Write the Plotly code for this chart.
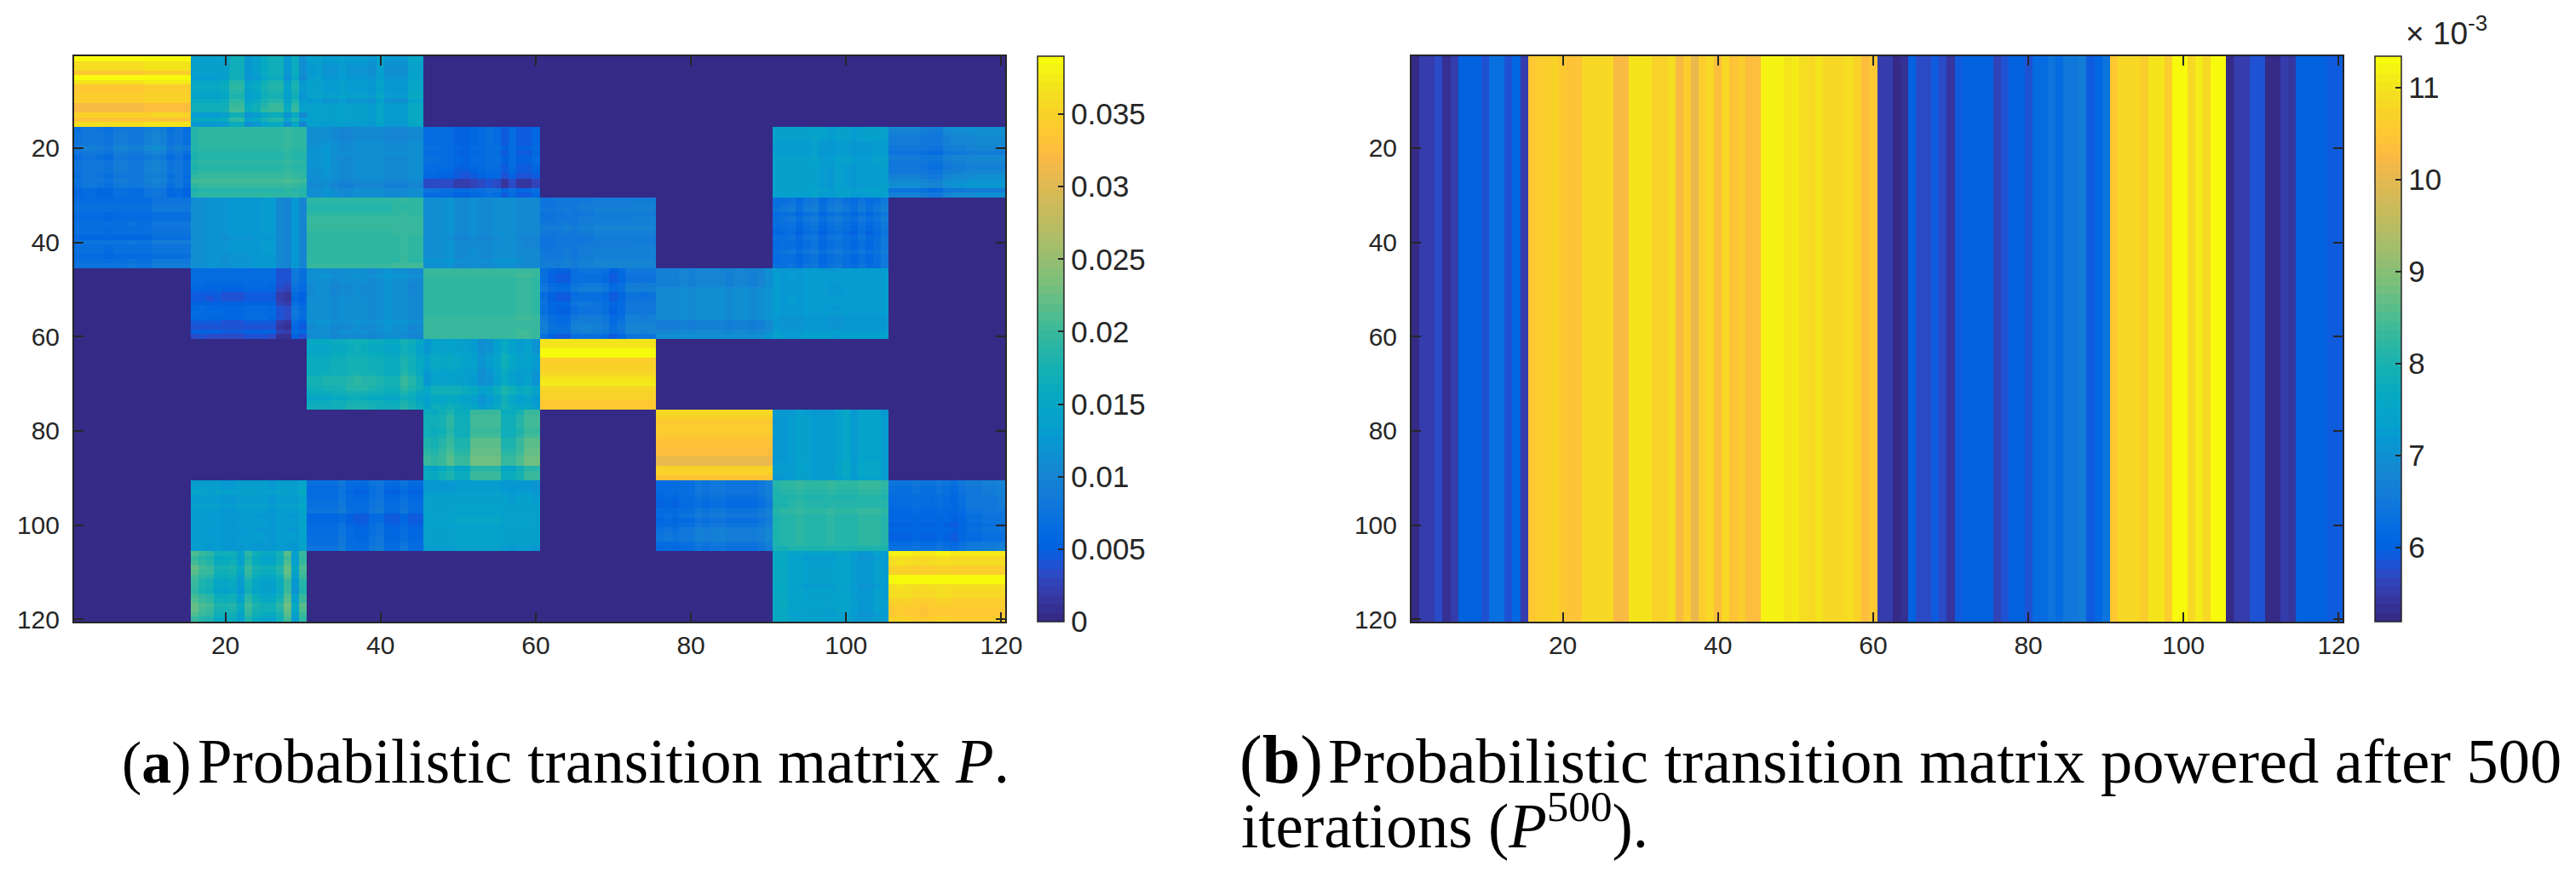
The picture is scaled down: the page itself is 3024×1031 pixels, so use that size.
import numpy as np
import plotly.graph_objects as go

W = 3024
H = 1031
# the browser keeps its default 8px body margin around the figure
PAGE_MARGIN = 8

# left matrix: mean of each 15x15 block (x 1e-3), 0.3 = off blocks
block_means = [
    [35.0, 15.5, 13.0, 0.3, 0.3, 0.3, 0.3, 0.3],
    [9.0, 19.2, 11.0, 6.3, 0.3, 0.3, 13.0, 9.5],
    [7.3, 11.8, 19.0, 11.0, 9.0, 0.3, 7.3, 0.3],
    [0.3, 5.2, 11.0, 19.3, 7.8, 10.0, 12.5, 0.3],
    [0.3, 0.3, 16.5, 15.0, 35.8, 0.3, 0.3, 0.3],
    [0.3, 0.3, 0.3, 18.5, 0.3, 33.8, 13.5, 0.3],
    [0.3, 13.0, 6.7, 13.5, 0.3, 8.2, 18.7, 7.5],
    [0.3, 17.0, 0.3, 0.3, 0.3, 0.3, 13.8, 35.7],
]

# texture inside the blocks, row and column offsets
r1c1_rows = [4, 1.5, 1.5, -1, 3.5, 2, -1, -1, -0.5, -0.5, -3, -3, 0, -2, 1.5]
r1c1_cols = [0, 0, 0, 0, 0, 0, 0, 0, 0, 0.3, 0.5, 0.5, 0.5, 0.5, 0.3]
r1c2_rows = [-1, -1, -1, -1, -1.5, 0.5, 1, 0.5, 0, 1, 2, 2.5, -1.5, 1, -2]
r1c2_cols = [-1, -1, -1, -1, -0.5, 2.5, 2.5, -2, -1, 1, 2, 2, -2, 1.5, -3.5]
r1c3_rows = [0.5, 0, -0.5, -0.5, 0, 0.5, 0.5, 0.5, 1, -0.5, 1, 1, 1, 1, 0.5]
r1c3_cols = [0, 0.5, -0.5, -0.5, 0.3, -0.5, -0.5, -0.5, -1, 1, -1, -1, -1, 1.5, 1.5]
r2c1_rows = [-0.5, 0, 0, 0, 1, 0, -1, 0, 0, 0, -0.5, 0, -0.5, -2, -2]
r2c1_cols = [-1.5, -0.5, -0.5, -1, -1.5, 0, 0, -0.5, -0.5, 0.5, 1, 0.5, -1.5, -0.5, -2]
r2c2_rows = [0, 0, 0, 0, 0, -0.5, -0.5, 0, -0.5, 0, 0.5, 1.5, 0.5, -0.5, -0.3]
r2c2_cols = [-0.5, 0, 0, 0, 0, 0, 0, 0, 0, 0, 0, 0, 0.3, 0, -0.3]
r2c3_rows = [-0.5, -0.5, -0.5, 0, 0.3, 0.5, 0.3, 0.3, 0.3, 0, 0, -0.5, -1, 0, 0]
r2c3_cols = [0.5, 0.5, 1, 0, -0.5, -0.5, 0, 0, 0, 0, -0.5, -0.5, -0.5, 0, 0]
r2c4_rows = [0, 0, 0, 0, 0.3, 0, 0.3, 0.3, 0, -0.5, -1, -3, -3, 1, 0]
r2c4_cols = [0.3, 0.3, 0, 0, -1, -1.2, -0.5, 0, 0.5, 0.3, -1.5, 0, -1.5, -1.5, -0.5]
r2c7_rows = [0.5, 0.5, 0.5, -0.3, -0.5, -0.5, 0.3, 0.3, 0, 0, 0, 0, 0, 0.5, 0.3]
r2c7_cols = [0.5, 0.5, 0.5, 0.5, 0.5, 1, 0, -0.3, 0.5, 0.3, -0.3, 0, 0, 0.3, 0.5]
r2c8_rows = [1, 0.5, 0, 0, -0.5, -1.5, 0, -0.5, -1, -0.5, 0.5, 1.5, 2, -1.5, 0.5]
r2c8_cols = [-0.5, -0.5, -0.5, -0.5, -1, -1.5, -1.5, 0, 0.5, 0.5, 0.8, 1, 1, 1, 1]
r3c1_rows = [-0.3, 0.3, 0.3, -0.5, -0.5, 0.5, 0, 0, -1, 1, 0, 0, -0.5, 0.5, 1]
r3c1_cols = [-0.5, -0.5, -0.5, -0.5, -0.8, -0.5, -0.5, -0.3, -0.5, -0.5, 0.5, 0.5, 0.5, 0.5, 0.5]
r3c2_rows = [0, 0, 0, 0, 0, 0, 0, 0, -0.3, 0, 0, 0, -0.3, -0.3, -0.3]
r3c2_cols = [-0.5, -0.3, 0.3, 0.3, 0, 0.5, 0.5, 0.5, 0.8, 1, 1, -1, -1.5, 0.8, -1.5]
r3c3_rows = [0, -0.3, -0.3, 0, 0.5, 0.5, 0.5, 0.3, 0, 0, 0, 0, 0, 0, 1]
r3c3_cols = [0, 0, 0, 0, 0, 0, 0, 0, 0, 0, 0, 0.3, 0.5, 0.3, 0.3]
r3c4_rows = [0, 0, 0, 0, 0, 0, 0, 0, -0.5, -0.3, -0.3, 0, 0, 0.3, 0]
r3c4_cols = [0.5, 0.5, 0.5, 1, -0.3, -0.3, 0, -0.3, -0.3, 0.3, 0.5, 0.5, -0.3, -0.5, -0.5]
r3c5_rows = [-0.5, -0.3, 0, -0.5, -0.3, 0, 0.5, 0, -0.5, -0.5, -0.3, 0, 0, 0.5, 0.5]
r3c5_cols = [-0.8, -0.8, -0.5, -0.3, -0.5, 0, 0, 0.3, 0.3, 0.3, 0.3, 0.3, 0.5, 0.5, 0.5]
r3c7_rows = [0, 0.5, 1, -0.5, 0.5, 0, -0.5, -1, 0, -0.5, -0.5, 0.5, -0.5, -0.5, 0]
r3c7_cols = [-0.5, 0, 0.5, -1, 0.5, 1, -1, 0.5, 1, 0, -1, 0.5, -1, 0, 1.2]
r4c2_rows = [1, 1, 1, 0.5, 0, -1, -1.2, -0.3, 0.5, 0.8, 0.5, -1, -1.5, -0.5, -2]
r4c2_cols = [0.3, 0.5, 0.2, 0.3, 0, 0, 0, 0.5, 0.5, 0.5, 0.3, -2, -2.5, 2, 1]
r4c3_rows = [0, 0.5, 0, -0.3, -0.3, -0.3, 0, 0, 0, 0, 0, 0.5, -0.3, 0, -0.5]
r4c3_cols = [0, 0.5, 0.5, -0.5, 0, 0, 0.3, 0, -0.3, 0.3, 1, 0.5, 0.3, -0.5, -0.3]
r4c4_rows = [0.3, 0.5, 0, 0, 0, 0, 0, 0, 0, 0, 0.5, 0.3, 0.3, 0.5, 0.8]
r4c4_cols = [0, 0, 0, 0, 0, 0, 0, 0, 0, 0, 0, 0, 0.5, 0.5, 0]
r4c5_rows = [-0.5, -1, -1, 0, 0.5, -1.3, -1, -0.3, -0.5, -0.5, 0.5, 0.8, 1.5, 1, -1]
r4c5_cols = [0, -1.5, -2, -2, 0, 0.5, 0.5, 0.3, -0.3, -2, -1, 1, 1, 0.8, 1]
r4c6_rows = [-0.5, -0.5, -0.5, -0.5, 0.5, 0.5, 0.5, 0.5, 0.5, 0.5, 0.5, -1, -1, 0, 1]
r4c6_cols = [0, 0, 0, 0.5, 0, 0.5, 0.5, 0.5, 0.5, 0, 0.5, 0.5, 0, 0.5, 1.5]
r4c7_rows = [0, 0.3, 0.3, 0, 0, 0, 0.3, 0.3, 0, 0.3, -0.5, -0.5, -0.5, 0.3, 0.8]
r4c7_cols = [0.5, -0.3, 0, -0.3, 0.3, 0.3, 0.3, 0, 0, 0.3, 0.3, 0.5, 0.5, 0.5, 0.5]
r5c3_rows = [-0.5, -1, -1, -0.5, 0, 0, 0, 0.3, 1.5, 1.5, 1, 0, -1, 0, 0.5]
r5c3_cols = [-0.5, -0.5, -0.3, 0, 0, 0.8, 1, 0.8, 0.3, 0, -0.5, -0.5, 1.5, 0.5, -1]
r5c4_rows = [-1, -1, -1, 0, 0, 0, -0.5, -1, -1, -1, 1.5, 1.5, 0, 0, 1]
r5c4_cols = [-1.5, 0.5, 0, 0.5, 0, -0.5, -1, -3, -2, -0.5, 1.5, 0, -1, -0.5, -2]
r5c5_rows = [1.2, 1.2, 3, 3, -1.5, -0.5, -0.5, 0, 0.8, 1.5, 0, -1, -1, -2, -2]
r5c5_cols = [0, 0, 0, 0, 0, 0, 0, 0, 0, 0, 0, 0, 0, 0, 0]
r6c4_rows = [-1, 0, 0, 0, -0.5, 0, 1, 1, 1.5, 2, 2.5, 2.5, -2, -1, -1]
r6c4_cols = [-1.5, -2, -1, 0.5, -1.5, -1.5, 2, 2, 2, 2, -1.5, -1.5, 0, 2, 2]
r6c6_rows = [2, 1, 0, 0.5, 0.5, 0, -0.5, -0.5, -1, -1, -3, -3, 1, 1, -0.5]
r6c6_cols = [0, 0, 0, 0, 0, 0, 0, 0, 0, 0, 0, 0, 0, 0, 0]
r6c7_rows = [-0.3, 0, 0, 0, 0, 0, 0, 0, 0, 0, 0, 0.3, 0.3, 0.3, 0]
r6c7_cols = [-1, -1, -0.5, 0.5, 0, -0.5, -0.5, -0.5, 0.5, 1.5, -0.5, 1, 1, 1, -0.5]
r7c2_rows = [0, 0.5, 1, 0, 0, 0.5, 0, -0.3, 0, 0, -0.3, 0, 0, -0.3, -0.3]
r7c2_cols = [0.3, 0.3, 0, 0.3, -0.5, -0.5, 0, 0.3, 0, 0, -0.5, 0.3, 0, 0, 1.5]
r7c3_rows = [0.5, 0, -0.3, 0, 0.5, 0.5, 1, -1, -1, -0.3, 0, 0, 0.3, 0.5, 1]
r7c3_cols = [0, 0, 0, 0, 1, -0.5, -1, -1, 0.5, 1, -1, -1, 0.3, -1, -1]
r7c4_rows = [-1, -1, -0.5, 0, 0, 0.5, 0.5, 0.5, 0.8, 0.5, 0.5, 0.5, 0.5, 0.5, -0.5]
r7c4_cols = [0, 0, 0, 0, 0.5, 0.5, 0.5, 0.5, 0.5, 0.5, 0, -0.3, 0, 0, -0.5]
r7c6_rows = [-0.5, -0.5, -0.5, -1, -1.5, -1.5, -0.5, 0, -1, -0.5, 0.5, 0.8, 0.8, -0.5, -1]
r7c6_cols = [-1.5, -1, -1.5, -0.5, -0.5, 0.5, 0, 0.5, 0.5, 0, 0, 0, 0, 0.5, 1.5]
r7c7_rows = [0.5, 0.5, 0, -0.5, -0.3, -0.3, 0.5, 0, 0, 0, 0, 0, 0, 0, -1]
r7c7_cols = [-0.5, -0.3, 0, 0.5, 0, 0, 0, 0.3, 0, 0, 0, 0.3, 0.3, 0.3, 0]
r7c8_rows = [1, 0.5, 0.5, 0, 0, 0, -0.5, -1, -1, -1.5, -1, -1.5, -1.5, 0, 0.5]
r7c8_cols = [-1, -1, -1, -0.5, -1, -1, -0.5, -1, -1.5, -0.5, 0.5, 0.5, 1, 1, 1.3]
r8c2_rows = [0.5, -0.5, 0, 1.5, 1, 0, -1, -1, -1.5, 0, 0.5, 2, 1.5, 0.5, -0.5]
r8c2_cols = [3.5, 2, 1.5, -1, -1, -0.5, -3, 1.5, -1, -2, -2, 0, 4, -3.5, 2.5]
r8c7_rows = [0, -0.5, 0, 0, 0, 0, 0, -0.5, 0, 0, 0, 0.3, 0, -0.3, 0]
r8c7_cols = [1.5, 2, 0.5, 0.5, 0, 0, 0, -0.3, 0.5, 0.5, -0.5, -1.5, -1.5, -0.3, -0.5]
r8c8_rows = [2, 0, 0.5, -1, -1, 3.5, 3, 0.5, 0, 0, -1, -1.5, -2, -2, -1]
r8c8_cols = [0.3, 0.5, 0.3, 0, -0.3, 0, 0.3, 0.3, 0, 0, 0, 0, 0, 0, 0]

# right matrix: every row is the same, one value per column (x 1e-3)
stationary = [
    5.2, 5.55, 5.55, 5.7, 5.3, 5.5, 6.0, 6.0, 6.0, 5.8,
    6.25, 6.25, 5.8, 6.15, 5.5, 10.5, 10.6, 10.6, 10.75, 10.55,
    10.45, 10.45, 10.8, 10.8, 10.8, 10.8, 10.2, 10.2, 11.0, 11.0,
    11.0, 10.7, 10.7, 10.95, 10.2, 10.6, 10.05, 10.6, 10.8, 10.3,
    10.8, 10.4, 10.6, 10.35, 10.35, 11.2, 11.2, 11.2, 11.05, 11.15,
    10.95, 10.8, 11.0, 10.8, 10.8, 10.8, 10.9, 10.7, 10.35, 10.5,
    5.5, 5.5, 5.25, 5.35, 6.05, 5.7, 5.7, 5.95, 5.75, 5.45,
    5.9, 6.05, 6.05, 6.05, 6.05, 5.65, 5.85, 6.05, 6.05, 5.85,
    6.2, 6.2, 6.4, 6.2, 6.5, 6.5, 6.55, 5.95, 6.1, 6.35,
    10.55, 10.85, 10.85, 10.8, 10.6, 11.05, 11.05, 10.6, 11.25, 11.25,
    10.85, 11.15, 10.85, 11.3, 11.3, 5.25, 5.5, 5.5, 5.8, 5.8,
    5.2, 5.2, 5.5, 5.45, 6.0, 6.0, 6.05, 6.05, 5.95, 5.9,
]

axis_ticks = [20, 40, 60, 80, 100, 120]
left_bar_vals = [0, 0.005, 0.01, 0.015, 0.02, 0.025, 0.03, 0.035]
left_bar_text = ["0", "0.005", "0.01", "0.015", "0.02", "0.025", "0.03", "0.035"]
right_bar_vals = [6, 7, 8, 9, 10, 11]

# MATLAB parula, 64 levels
parula = [
    (0.2081, 0.1663, 0.5292), (0.2116, 0.1898, 0.5777), (0.2123, 0.2138, 0.6270), (0.2081, 0.2386, 0.6771),
    (0.1959, 0.2645, 0.7279), (0.1707, 0.2919, 0.7792), (0.1253, 0.3242, 0.8303), (0.0591, 0.3598, 0.8683),
    (0.0117, 0.3875, 0.8820), (0.0060, 0.4086, 0.8828), (0.0165, 0.4266, 0.8786), (0.0329, 0.4430, 0.8720),
    (0.0498, 0.4586, 0.8641), (0.0629, 0.4737, 0.8554), (0.0723, 0.4887, 0.8467), (0.0779, 0.5040, 0.8384),
    (0.0793, 0.5200, 0.8312), (0.0749, 0.5375, 0.8263), (0.0641, 0.5570, 0.8240), (0.0488, 0.5772, 0.8228),
    (0.0343, 0.5966, 0.8199), (0.0265, 0.6137, 0.8135), (0.0239, 0.6287, 0.8038), (0.0231, 0.6418, 0.7913),
    (0.0228, 0.6535, 0.7768), (0.0267, 0.6642, 0.7607), (0.0384, 0.6743, 0.7436), (0.0590, 0.6838, 0.7254),
    (0.0843, 0.6928, 0.7062), (0.1133, 0.7015, 0.6859), (0.1453, 0.7098, 0.6646), (0.1801, 0.7177, 0.6424),
    (0.2178, 0.7250, 0.6193), (0.2586, 0.7317, 0.5954), (0.3022, 0.7376, 0.5712), (0.3482, 0.7424, 0.5473),
    (0.3953, 0.7459, 0.5244), (0.4420, 0.7481, 0.5033), (0.4871, 0.7491, 0.4840), (0.5300, 0.7491, 0.4661),
    (0.5709, 0.7485, 0.4494), (0.6099, 0.7473, 0.4337), (0.6473, 0.7456, 0.4188), (0.6834, 0.7435, 0.4044),
    (0.7184, 0.7411, 0.3905), (0.7525, 0.7384, 0.3768), (0.7858, 0.7356, 0.3633), (0.8185, 0.7327, 0.3498),
    (0.8507, 0.7299, 0.3360), (0.8824, 0.7274, 0.3217), (0.9139, 0.7258, 0.3063), (0.9450, 0.7261, 0.2886),
    (0.9739, 0.7314, 0.2666), (0.9938, 0.7455, 0.2403), (0.9990, 0.7653, 0.2164), (0.9955, 0.7861, 0.1967),
    (0.9880, 0.8066, 0.1794), (0.9789, 0.8271, 0.1633), (0.9697, 0.8481, 0.1475), (0.9626, 0.8705, 0.1309),
    (0.9589, 0.8949, 0.1132), (0.9598, 0.9218, 0.0948), (0.9661, 0.9514, 0.0755), (0.9763, 0.9831, 0.0538),
]
colorscale = []
for i, c in enumerate(parula):
    col = "rgb(%d,%d,%d)" % (c[0] * 255, c[1] * 255, c[2] * 255)
    colorscale.append([i / 64, col])
    colorscale.append([(i + 1) / 64, col])

# put the left matrix together from the blocks
z_left = np.zeros((120, 120))
for r in range(8):
    for c in range(8):
        z_left[r * 15:(r + 1) * 15, c * 15:(c + 1) * 15] = block_means[r][c]
        rows = globals().get("r%dc%d_rows" % (r + 1, c + 1))
        cols = globals().get("r%dc%d_cols" % (r + 1, c + 1))
        if rows is not None:
            z_left[r * 15:(r + 1) * 15, c * 15:(c + 1) * 15] += np.add.outer(rows, cols)
z_left = np.clip(z_left, 0, 39) / 1000

z_right = [stationary] * 120
cells = list(range(1, 121))

INK = "#262626"
SANS = "Liberation Sans"
SERIF = "Liberation Serif"

FIG_W = W - 2 * PAGE_MARGIN
FIG_H = H - 2 * PAGE_MARGIN


def px_x(p):
    return (p - PAGE_MARGIN) / FIG_W


def px_y(p):
    return 1 - (p - PAGE_MARGIN) / FIG_H


fig = go.Figure()
fig.add_trace(go.Heatmap(
    z=z_left, x=cells, y=cells, xaxis="x", yaxis="y",
    colorscale=colorscale, zmin=0, zmax=0.039,
    colorbar=dict(
        x=px_x(1218), xanchor="left", y=px_y(66), yanchor="top", len=664 / FIG_H, lenmode="fraction",
        thickness=31, xpad=0, ypad=0, outlinecolor=INK, outlinewidth=1.5,
        ticks="inside", ticklen=7, tickwidth=1.5, tickcolor=INK, tickvals=left_bar_vals, ticktext=left_bar_text,
        tickfont=dict(family=SANS, size=35, color=INK),
    ),
))
fig.add_trace(go.Heatmap(
    z=z_right, x=cells, y=cells, xaxis="x2", yaxis="y2",
    colorscale=colorscale, zmin=5.19, zmax=11.345,
    colorbar=dict(
        x=px_x(2788), xanchor="left", y=px_y(66), yanchor="top", len=664 / FIG_H, lenmode="fraction",
        thickness=31, xpad=0, ypad=0, outlinecolor=INK, outlinewidth=1.5,
        ticks="inside", ticklen=7, tickwidth=1.5, tickcolor=INK, tickvals=right_bar_vals,
        tickfont=dict(family=SANS, size=35, color=INK),
    ),
))

axis_style = dict(
    tickvals=axis_ticks, ticks="inside", ticklen=11, tickwidth=1.5, tickcolor=INK, automargin=False,
    showline=True, linecolor=INK, linewidth=2, mirror="allticks", showgrid=False, zeroline=False,
    tickfont=dict(family=SANS, size=30, color=INK),
)
fig.update_layout(
    width=FIG_W, height=FIG_H, margin=dict(l=0, r=0, t=0, b=0),
    paper_bgcolor="white", plot_bgcolor="white", showlegend=False,
    xaxis=dict(domain=[px_x(87), px_x(1180)], range=[0.5, 120.5], anchor="y", **axis_style),
    yaxis=dict(domain=[px_y(730), px_y(66)], range=[120.5, 0.5], anchor="x", ticklabelstandoff=9, **axis_style),
    xaxis2=dict(domain=[px_x(1657), px_x(2750)], range=[0.5, 120.5], anchor="y2", **axis_style),
    yaxis2=dict(domain=[px_y(730), px_y(66)], range=[120.5, 0.5], anchor="x2", ticklabelstandoff=9, **axis_style),
)

captions = [
    ("(<b>a</b>)", 226, 920, 70, "right"),
    ("Probabilistic transition matrix <i>P</i>.", 231, 920, 73, "left"),
    ("(<b>b</b>)", 1554, 920, 80, "right"),
    ("Probabilistic transition matrix powered after 500", 1558, 920, 74.4, "left"),
    ("iterations (<i>P</i><sup>500</sup>).", 1456, 996, 73, "left"),
]
for text, x, y, size, side in captions:
    fig.add_annotation(
        text=text, x=px_x(x), y=px_y(y + size * 0.22), xref="paper", yref="paper",
        xanchor=side, yanchor="bottom", showarrow=False, borderpad=0,
        font=dict(family=SERIF, size=size, color="black"),
    )
fig.add_annotation(
    text="× 10<sup>-3</sup>", x=px_x(2823), y=px_y(61), xref="paper", yref="paper",
    xanchor="left", yanchor="bottom", showarrow=False, borderpad=0,
    font=dict(family=SANS, size=37, color=INK),
)

fig.write_html("out.html")
